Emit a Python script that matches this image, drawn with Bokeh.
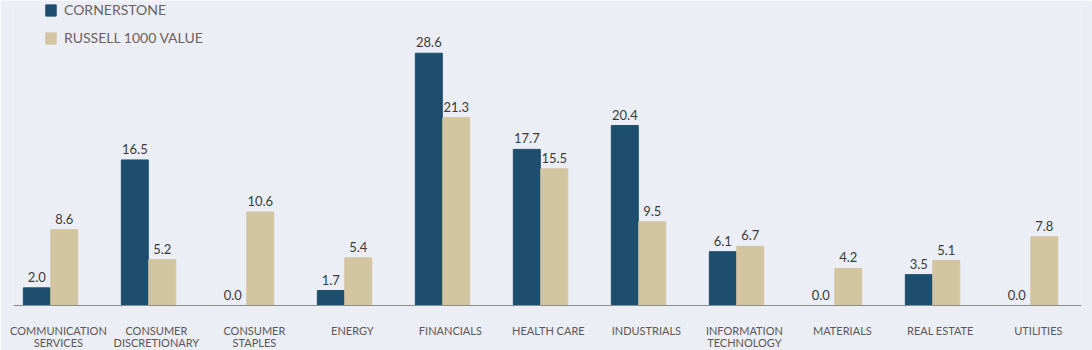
from bokeh.plotting import figure
from bokeh.models import ColumnDataSource, Range1d, Legend, LegendItem, FixedTicker
from bokeh.embed import file_html
from bokeh.resources import INLINE
from bokeh.core.properties import value

categories = ["COMMUNICATION\nSERVICES", "CONSUMER\nDISCRETIONARY", "CONSUMER\nSTAPLES", "ENERGY",
              "FINANCIALS", "HEALTH CARE", "INDUSTRIALS", "INFORMATION\nTECHNOLOGY",
              "MATERIALS", "REAL ESTATE", "UTILITIES"]
cornerstone = [2.0, 16.5, 0.0, 1.7, 28.6, 17.7, 20.4, 6.1, 0.0, 3.5, 0.0]
russell = [8.6, 5.2, 10.6, 5.4, 21.3, 15.5, 9.5, 6.7, 4.2, 5.1, 7.8]
series_names = ["CORNERSTONE", "RUSSELL 1000 VALUE"]

BG = "#ebeef5"
NAVY = "#1d4e6e"
BEIGE = "#d4c5a1"
FONT = "Lato"

idx = list(range(len(categories)))
src = ColumnDataSource(dict(
    x=idx,
    xa=[i - 0.14 for i in idx],
    xb=[i + 0.14 for i in idx],
    a=cornerstone, b=russell,
    la=[f"{v:.1f}" for v in cornerstone],
    lb=[f"{v:.1f}" for v in russell],
))

p = figure(width=1092, height=350, frame_width=1068, frame_height=305,
           output_backend="svg", toolbar_location=None,
           x_range=Range1d(-0.378, 10.52), y_range=Range1d(0, 34.58),
           min_border_left=13, min_border_right=11, min_border_top=0, min_border_bottom=45)
p.background_fill_color = BG
p.border_fill_color = BG
p.outline_line_color = None
p.grid.visible = False
p.yaxis.visible = False

ra = p.vbar(x="xa", top="a", width=0.275, source=src, color=NAVY)
rb = p.vbar(x="xb", top="b", width=0.275, source=src, color=BEIGE)

p.text(x="xa", y="a", text="la", source=src, text_align="center", text_baseline="bottom",
       y_offset=-6, text_font=value(FONT), text_font_size="13px", text_color="#3b3b3b")
p.text(x="xb", y="b", text="lb", source=src, text_align="center", text_baseline="bottom",
       y_offset=-6, text_font=value(FONT), text_font_size="13px", text_color="#3b3b3b")

tick_pos = [i + 0.08 for i in idx]
ax = p.xaxis[0]
ax.ticker = FixedTicker(ticks=tick_pos)
ax.major_label_overrides = {t: c for t, c in zip(tick_pos, categories)}
ax.major_tick_line_color = None
ax.minor_tick_line_color = None
ax.axis_line_color = "#8c8c8c"
ax.axis_line_width = 1
ax.major_label_text_font = FONT
ax.major_label_text_font_size = "11px"
ax.major_label_text_color = "#5e5656"
ax.major_label_text_line_height = 0.95
ax.major_label_standoff = 12

legend = Legend(items=[LegendItem(label=series_names[0], renderers=[ra]),
                       LegendItem(label=series_names[1], renderers=[rb])],
                location=(31, 259), orientation="vertical")
legend.glyph_width = 13
legend.glyph_height = 14
legend.label_height = 14
legend.spacing = 11
legend.padding = 0
legend.margin = 0
legend.label_standoff = 7
legend.border_line_color = None
legend.background_fill_alpha = 0
legend.label_text_font = FONT
legend.label_text_font_size = "14px"
legend.label_text_color = "#6b6262"
p.add_layout(legend)

open("out.html", "w").write(file_html(p, INLINE))
